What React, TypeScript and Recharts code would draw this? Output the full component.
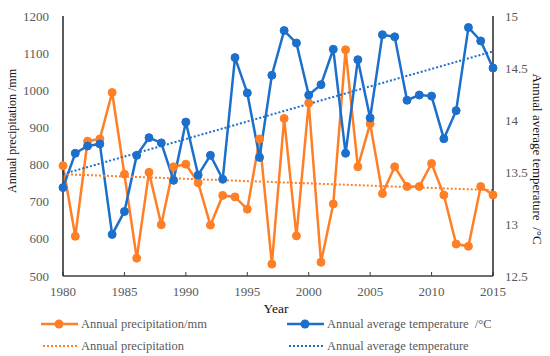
import React from 'react';
import { ComposedChart, Line, XAxis, YAxis, Label } from 'recharts';

const years = [
  1980, 1981, 1982, 1983, 1984, 1985, 1986, 1987, 1988, 1989,
  1990, 1991, 1992, 1993, 1994, 1995, 1996, 1997, 1998, 1999,
  2000, 2001, 2002, 2003, 2004, 2005, 2006, 2007, 2008, 2009,
  2010, 2011, 2012, 2013, 2014, 2015,
];
const precipitation = [
  797, 607, 863, 869, 994, 774, 548, 779, 638, 794,
  801, 751, 637, 717, 713, 680, 869, 532, 924, 608,
  966, 537, 694, 1109, 794, 910, 722, 794, 741, 741,
  803, 718, 586, 580, 741, 718,
];
const temperature = [
  13.35, 13.68, 13.75, 13.77, 12.9, 13.12, 13.66, 13.83, 13.78, 13.42,
  13.98, 13.47, 13.66, 13.43, 14.6, 14.26, 13.64, 14.43, 14.86, 14.74,
  14.24, 14.34, 14.68, 13.68, 14.58, 14.02, 14.82, 14.8, 14.19, 14.24,
  14.23, 13.82, 14.09, 14.89, 14.76, 14.5,
];
const trendYears = [1980, 2015];
const precipTrend = [774, 731];
const tempTrend = [13.48, 14.66];

const xTicks = [1980, 1985, 1990, 1995, 2000, 2005, 2010, 2015];
const leftTicks = [500, 600, 700, 800, 900, 1000, 1100, 1200];
const rightTicks = [12.5, 13, 13.5, 14, 14.5, 15];

const ORANGE = '#FF7F27';
const BLUE = '#1C6FCB';
const FONT = "'Liberation Serif', 'Times New Roman', serif";
const TICK = { fill: '#595959', fontSize: 13, fontFamily: FONT };

const data = years.map((year, i) => {
  const ti = trendYears.indexOf(year);
  return {
    year,
    p: precipitation[i],
    t: temperature[i],
    pt: ti >= 0 ? precipTrend[ti] : undefined,
    tt: ti >= 0 ? tempTrend[ti] : undefined,
  };
});

const LegendItem = ({ color, dotted, text, x, y }: any) => (
  <div style={{ position: 'absolute', left: x, top: y, display: 'flex', alignItems: 'center', height: 16 }}>
    <svg width={38} height={12} style={{ marginRight: 2 }}>
      {dotted ? (
        <line x1={2} y1={6} x2={36} y2={6} stroke={color} strokeWidth={2} strokeDasharray="2 2" />
      ) : (
        <>
          <line x1={0} y1={6} x2={37} y2={6} stroke={color} strokeWidth={2.5} />
          <circle cx={18} cy={6} r={4.5} fill={color} />
        </>
      )}
    </svg>
    <span style={{ fontFamily: FONT, fontSize: 12.5, color: '#595959', whiteSpace: 'pre' }}>{text}</span>
  </div>
);

export default function App() {
  return (
    <div style={{ position: 'absolute', left: 0, top: 0, width: 550, height: 356, background: '#fff' }}>
      <ComposedChart width={550} height={356} data={data} margin={{ top: 16, right: 0, bottom: 40, left: 0 }}>
        <XAxis
          dataKey="year"
          type="number"
          domain={[1980, 2015]}
          ticks={xTicks}
          tick={TICK}
          tickSize={-4}
          tickMargin={15}
          height={40}
          axisLine={{ stroke: '#404040', strokeWidth: 1.5 }}
          tickLine={{ stroke: '#404040', strokeWidth: 1 }}
        >
          <Label
            content={() => (
              <text x={276} y={313} textAnchor="middle" fontFamily={FONT} fontSize={13.5} fill="#111">
                Year
              </text>
            )}
          />
        </XAxis>
        <YAxis
          yAxisId="left"
          domain={[500, 1200]}
          ticks={leftTicks}
          tick={TICK}
          tickLine={false}
          tickSize={0}
          tickMargin={14}
          width={63}
          axisLine={{ stroke: '#262626', strokeWidth: 1.5 }}
        >
          <Label
            content={() => (
              <text x={12} y={131} transform="rotate(-90 12 131)" textAnchor="middle" dominantBaseline="central" fontFamily={FONT} fontSize={12} fill="#111">
                Annual precipitation /mm
              </text>
            )}
          />
        </YAxis>
        <YAxis
          yAxisId="right"
          orientation="right"
          domain={[12.5, 15]}
          ticks={rightTicks}
          tick={TICK}
          tickLine={false}
          tickSize={0}
          tickMargin={12}
          width={57}
          axisLine={{ stroke: '#262626', strokeWidth: 1.5 }}
        >
          <Label
            content={() => (
              <text x={537} y={159} transform="rotate(90 537 159)" textAnchor="middle" dominantBaseline="central" fontFamily={FONT} fontSize={13} fill="#111" style={{ whiteSpace: 'pre' }}>
                {'Annual average temperature  /\u00B0C'}
              </text>
            )}
          />
        </YAxis>
        <Line
          yAxisId="left"
          dataKey="p"
          stroke={ORANGE}
          strokeWidth={2.5}
          dot={{ r: 4, fill: ORANGE, stroke: ORANGE, strokeWidth: 1 }}
          activeDot={false}
          isAnimationActive={false}
        />
        <Line
          yAxisId="right"
          dataKey="t"
          stroke={BLUE}
          strokeWidth={2.5}
          dot={{ r: 4, fill: BLUE, stroke: BLUE, strokeWidth: 1 }}
          activeDot={false}
          isAnimationActive={false}
        />
        <Line
          yAxisId="left"
          dataKey="pt"
          stroke={ORANGE}
          strokeWidth={2}
          strokeDasharray="2 2"
          connectNulls
          dot={false}
          activeDot={false}
          isAnimationActive={false}
        />
        <Line
          yAxisId="right"
          dataKey="tt"
          stroke={BLUE}
          strokeWidth={2}
          strokeDasharray="2 2"
          connectNulls
          dot={false}
          activeDot={false}
          isAnimationActive={false}
        />
      </ComposedChart>
      <LegendItem color={ORANGE} text="Annual precipitation/mm" x={41} y={316} />
      <LegendItem color={BLUE} text={'Annual average temperature  /\u00B0C'} x={287} y={316} />
      <LegendItem color={ORANGE} dotted text="Annual precipitation" x={41} y={338} />
      <LegendItem color={BLUE} dotted text="Annual average temperature" x={287} y={338} />
    </div>
  );
}
